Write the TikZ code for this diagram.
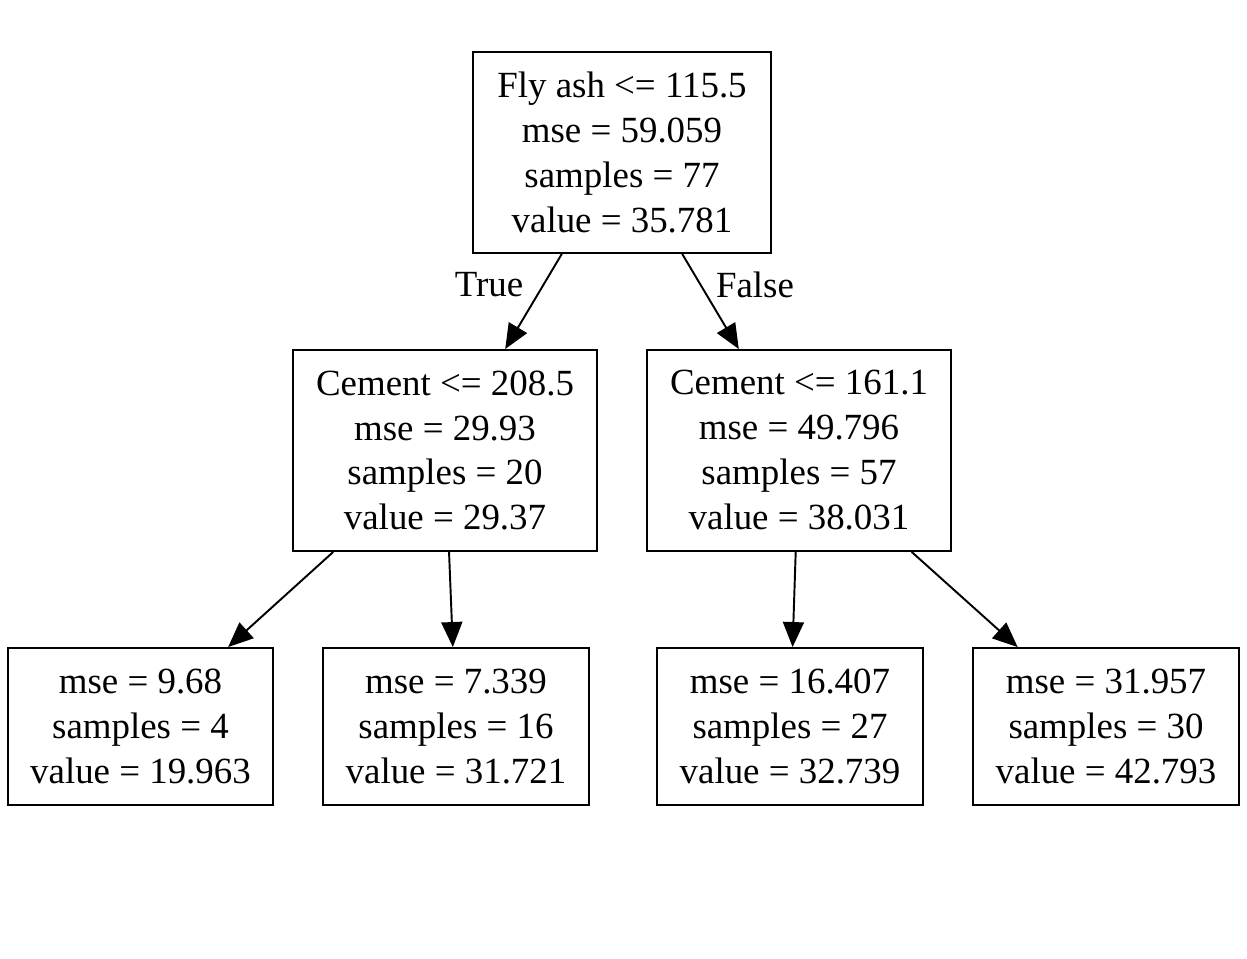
\documentclass[tikz,border=0pt]{standalone}
\usepackage{fontspec}
\setmainfont{Liberation Serif}
\usetikzlibrary{arrows.meta}

\begin{document}
\begin{tikzpicture}[x=0.02cm,y=-0.02cm,
    every node/.style={font=\fontsize{21}{25.6}\selectfont,align=center,inner sep=0pt},
    split/.style={draw,line width=1.1pt,minimum width=6.08cm,minimum height=4.02cm},
    leaf/.style={draw,line width=1.1pt,minimum width=5.32cm,minimum height=3.14cm},
    edge/.style={line width=1.1pt,-{Triangle[length=0.5cm,width=0.42cm]}}
   ]
\useasboundingbox (0,0) rectangle (1247,959);
% splits
\node[split,minimum width=5.96cm] (root) at (622,152.5)
    {Fly ash <= 115.5\\mse = 59.059\\samples = 77\\value = 35.781};
\node[split] (cemL) at (445,450.5)
    {Cement <= 208.5\\mse = 29.93\\samples = 20\\value = 29.37};
\node[split] (cemR) at (799,450.5)
    {Cement <= 161.1\\mse = 49.796\\samples = 57\\value = 38.031};
% leaves
\node[leaf,minimum width=5.3cm] (leafA) at (140.5,726.5) {mse = 9.68\\samples = 4\\value = 19.963};
\node[leaf] (leafB) at (456,726.5) {mse = 7.339\\samples = 16\\value = 31.721};
\node[leaf] (leafC) at (790,726.5) {mse = 16.407\\samples = 27\\value = 32.739};
\node[leaf] (leafD) at (1106,726.5) {mse = 31.957\\samples = 30\\value = 42.793};
% edges
\draw[edge] (root) -- (cemL);
\draw[edge] (root) -- (cemR);
\draw[edge] (cemL) -- (leafA);
\draw[edge] (cemL) -- (leafB);
\draw[edge] (cemR) -- (leafC);
\draw[edge] (cemR) -- (leafD);
\node (lblT) at (489,285) {True};
\node (lblF) at (755,285) {False};
\end{tikzpicture}
\end{document}
